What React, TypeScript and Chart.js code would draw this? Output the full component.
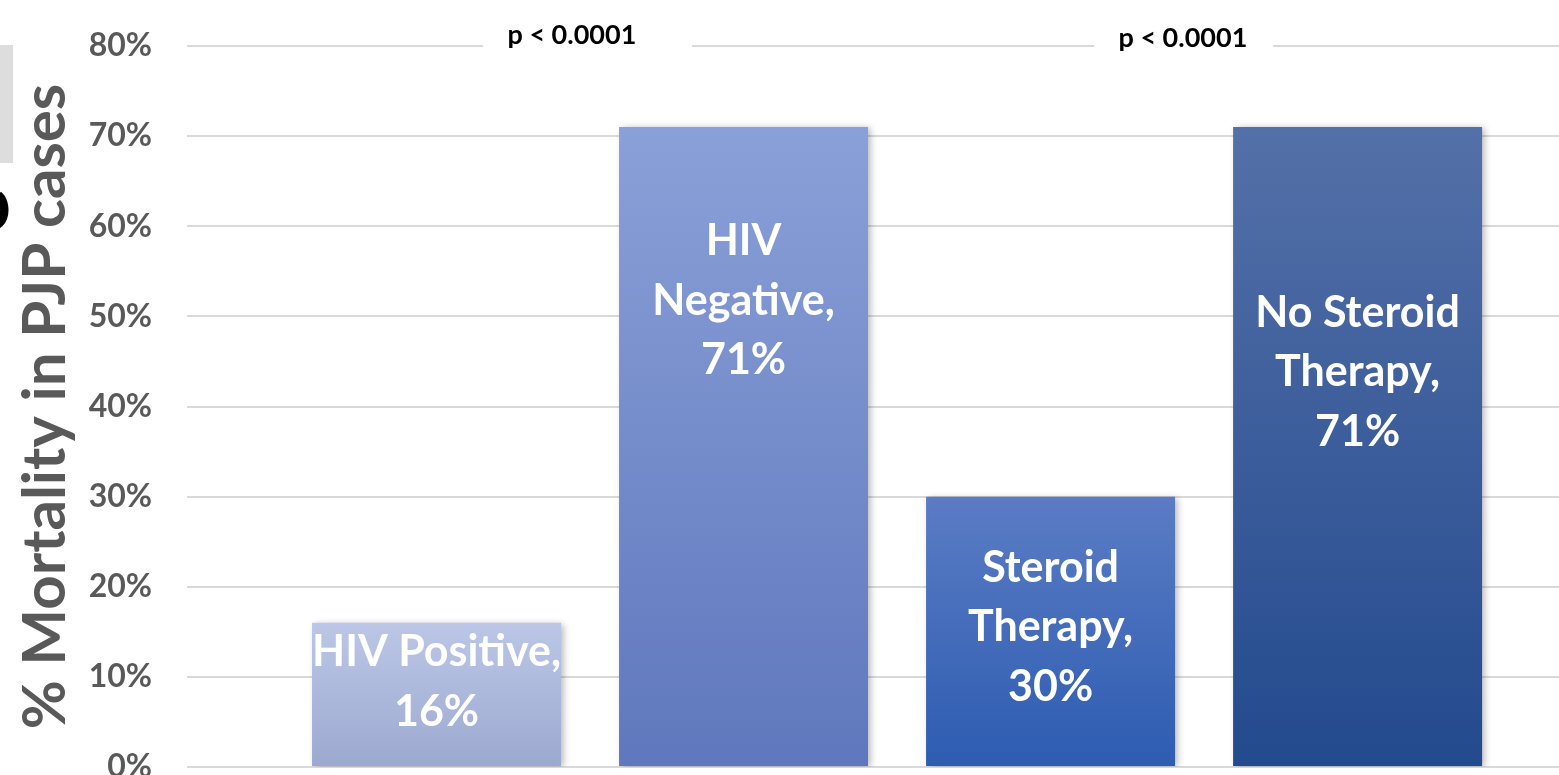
import React, { useEffect, useRef } from "react";
import { Chart, registerables } from "chart.js";

Chart.register(...registerables);

// ---- data ----
const categories = ["HIV Positive", "HIV\nNegative", "Steroid\nTherapy", "No Steroid\nTherapy"];
const mortality = [16, 71, 30, 71];
const yTickValues = [0, 10, 20, 30, 40, 50, 60, 70, 80];
const pValueTexts = ["p < 0.0001", "p < 0.0001"];
const yAxisTitle = "% Mortality in PJP cases";

// ---- styling / placement config ----
const barTopColors = ["#BCC7E7", "#8AA0D8", "#5B7CC4", "#5470A8"];
const barBottomColors = ["#9CA9CF", "#5F78BD", "#2D5CB1", "#234A8E"];
const labelCenterValues = [9.4, 51.7, 15.5, 43.8];
const pTextX = [1.441, 3.431];
const pTextY = [81.2, 80.9];
const pBoxX0 = [1.151, 3.142];
const pBoxX1 = [1.832, 3.725];
const pBoxY0 = 83.1;
const pBoxY1 = 79.6;

const FONT = "Lato, 'Open Sans', sans-serif";

export default function App() {
  const ref = useRef<HTMLCanvasElement | null>(null);

  useEffect(() => {
    const canvas = ref.current;
    if (!canvas) return;

    const barGradient = (ctx: any) => {
      const chart = ctx.chart;
      const i = ctx.dataIndex;
      if (!chart.chartArea || i === undefined) return barTopColors[0];
      const y = chart.scales.y;
      const top = y.getPixelForValue(mortality[i]);
      const bottom = y.getPixelForValue(0);
      const g = chart.ctx.createLinearGradient(0, top, 0, bottom);
      g.addColorStop(0, barTopColors[i]);
      g.addColorStop(1, barBottomColors[i]);
      return g;
    };

    const shadowPlugin = {
      id: "barShadow",
      beforeDatasetsDraw(chart: any) {
        const c = chart.ctx;
        c.save();
        c.shadowColor = "rgba(0,0,0,0.28)";
        c.shadowBlur = 7;
        c.shadowOffsetX = 3;
        c.shadowOffsetY = 1;
      },
      afterDatasetsDraw(chart: any) {
        chart.ctx.restore();
      },
    };

    const labelPlugin = {
      id: "barLabels",
      afterDatasetsDraw(chart: any) {
        const c = chart.ctx;
        const meta = chart.getDatasetMeta(0);
        const y = chart.scales.y;
        c.save();
        c.fillStyle = "#FFFFFF";
        c.font = `bold 43px ${FONT}`;
        c.textAlign = "center";
        c.textBaseline = "middle";
        const lh = 59.5;
        meta.data.forEach((bar: any, i: number) => {
          const lines = (categories[i] + ",\n" + mortality[i] + "%").split("\n");
          const cy = y.getPixelForValue(labelCenterValues[i]);
          const start = cy - ((lines.length - 1) * lh) / 2;
          lines.forEach((ln, k) => c.fillText(ln, bar.x, start + k * lh));
        });
        c.restore();
      },
    };

    const annotationPlugin = {
      id: "pValues",
      afterDatasetsDraw(chart: any) {
        const c = chart.ctx;
        const x = chart.scales.x;
        const y = chart.scales.y;
        c.save();
        pValueTexts.forEach((t, i) => {
          const bx0 = x.getPixelForValue(pBoxX0[i]);
          const bx1 = x.getPixelForValue(pBoxX1[i]);
          const by0 = y.getPixelForValue(pBoxY0);
          const by1 = y.getPixelForValue(pBoxY1);
          c.fillStyle = "#FFFFFF";
          c.fillRect(bx0, by0, bx1 - bx0, by1 - by0);
          c.fillStyle = "#000000";
          c.font = `bold 27px ${FONT}`;
          c.textAlign = "center";
          c.textBaseline = "middle";
          c.fillText(t, x.getPixelForValue(pTextX[i]), y.getPixelForValue(pTextY[i]));
        });
        c.restore();
      },
      afterDraw(chart: any) {
        const c = chart.ctx;
        c.save();
        c.fillStyle = "#DDDDDD";
        c.fillRect(0, 45, 13, 118);
        c.translate(8, 212);
        c.rotate(-Math.PI / 2);
        c.fillStyle = "#000000";
        c.font = `bold 88px ${FONT}`;
        c.textAlign = "center";
        c.textBaseline = "alphabetic";
        c.fillText("e", 0, 0);
        c.restore();
      },
    };

    const chart = new Chart(canvas, {
      type: "bar",
      data: {
        datasets: [
          {
            data: mortality.map((v, i) => ({ x: i + 1, y: v })),
            backgroundColor: barGradient,
            borderWidth: 0,
            categoryPercentage: 1,
            barPercentage: 0.811,
          } as any,
        ],
      },
      plugins: [shadowPlugin, labelPlugin, annotationPlugin],
      options: {
        animation: false,
        responsive: false,
        maintainAspectRatio: false,
        layout: { padding: { left: 0, right: 0, top: 46, bottom: 33 } },
        plugins: { legend: { display: false }, tooltip: { enabled: false } },
        scales: {
          x: {
            type: "linear",
            offset: false,
            min: 0.1873,
            max: 4.656,
            display: false,
            grid: { display: false },
            afterBuildTicks(scale: any) {
              scale.ticks = mortality.map((_, i) => ({ value: i + 1 }));
            },
          },
          y: {
            min: 0,
            max: 80,
            afterBuildTicks(scale: any) {
              scale.ticks = yTickValues.map((v) => ({ value: v }));
            },
            afterFit(scale: any) {
              scale.width = 187;
            },
            border: { display: false },
            grid: {
              color: "#D9D9D9",
              lineWidth: 2,
              drawTicks: true,
              tickLength: 35,
              tickColor: "rgba(0,0,0,0)",
            },
            ticks: {
              padding: 0,
              color: "#595959",
              font: { family: FONT, size: 32, weight: "bold" },
              callback: (v: any) => v + "%",
            },
            title: {
              display: true,
              text: yAxisTitle,
              color: "#595959",
              font: { family: FONT, size: 60, weight: "bold", lineHeight: 1 },
              padding: { top: 16, bottom: 0 },
            },
          },
        },
      },
    });

    return () => chart.destroy();
  }, []);

  return (
    <div style={{ position: "fixed", left: 0, top: 0, width: 1559, height: 775, overflow: "hidden", background: "#FFFFFF" }}>
      <canvas ref={ref} width={1559} height={800} style={{ display: "block", width: 1559, height: 800 }} />
    </div>
  );
}
